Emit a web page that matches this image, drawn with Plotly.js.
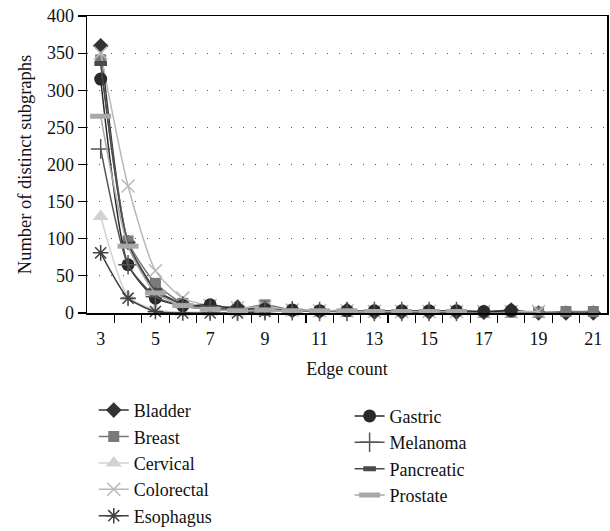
<!DOCTYPE html>
<html>
<head>
<meta charset="utf-8">
<script src="https://cdn.plot.ly/plotly-3.0.1.min.js"></script>
<style>html,body{margin:0;padding:0;background:#fff;}#chart{width:610px;height:531px;}</style>
</head>
<body>
<div id="chart"></div>
<script>
// Edge counts (x categories)
const edgeCounts = [3,4,5,6,7,8,9,10,11,12,13,14,15,16,17,18,19,20,21];
const xTickLabels = ["3","5","7","9","11","13","15","17","19","21"];
const yTickLabels = ["0","50","100","150","200","250","300","350","400"];

// Number of distinct subgraphs per cancer type
const bladder    = [360, 95, 32, 12, 8, 8, 5, 3, 2, 4, 1, 1, 1, 1, 1, 4, 0, 0, 0];
const breast     = [341, 97, 40, 13, 7, 5, 11, 4, 3, 2, 2, 2, 2, 2, 1, 1, 1, 2, 2];
const cervical   = [130, 22, 4, 1, 1, 0, 1];
const colorectal = [350, 171, 57, 20, 10, 7, 8, 4, 3, 3, 2, 2, 2, 2, 2, 2, 2];
const esophagus  = [81, 20, 2, 0, 0, 0, 2];
const gastric    = [315, 65, 20, 10, 11, 5, 5, 4, 3, 3, 3, 3, 3, 3, 2, 3];
const melanoma   = [221, 65, 22, 9, 5, 3, 3, 3, 2, 2, 2, 2, 2, 2];
const pancreatic = [336, 93, 30, 12, 7, 5, 5, 3, 3, 2, 2, 2, 2, 2];
const prostate   = [265, 90, 27, 10, 5, 3, 4, 3, 3, 3, 2, 2, 2, 2];

const names = ["Bladder","Breast","Cervical","Colorectal","Esophagus","Gastric","Melanoma","Pancreatic","Prostate"];
const series = [bladder, breast, cervical, colorectal, esophagus, gastric, melanoma, pancreatic, prostate];
const colors = ["#333333","#7a7a7a","#d2d2d2","#b8b8b8","#404040","#2a2a2a","#555555","#4a4a4a","#a8a8a8"];
const symbols = ["diamond","square","triangle-up","x-thin-open","asterisk-open","circle","cross-thin-open","line-ew-open","line-ew-open"];
const sizes = [12, 11, 14, 13, 13, 13, 14, 9, 15];
const mlw = [0, 0, 0, 1.5, 1.5, 0, 1.5, 5, 5];

const traces = series.map((vals, i) => ({
  type: 'scatter',
  mode: 'lines+markers',
  name: names[i],
  x: edgeCounts.slice(0, vals.length),
  y: vals,
  legend: i < 5 ? 'legend' : 'legend2',
  line: {color: colors[i], width: 1.5, shape: 'spline', smoothing: 0.6},
  marker: {symbol: symbols[i], size: sizes[i], color: colors[i], line: {color: colors[i], width: mlw[i]}},
  cliponaxis: false
}));

const serif = 'Liberation Serif, DejaVu Serif, serif';
const tickFont = {family: serif, size: 18, color: '#111'};
const xTickVals = xTickLabels.map(Number);
const yTickVals = yTickLabels.map(Number);
const boundaries = edgeCounts.slice(0, -1).map(v => v + 0.5);

const layout = {
  width: 610, height: 531,
  margin: {l: 87, r: 3, t: 16, b: 218, autoexpand: false},
  paper_bgcolor: '#fff', plot_bgcolor: '#fff',
  showlegend: true,
  xaxis: {
    range: [2.5, 21.5], automargin: false,
    tickmode: 'array', tickvals: xTickVals, ticktext: xTickLabels,
    ticks: '', ticklabelstandoff: 9, showgrid: false, zeroline: false,
    showline: true, linecolor: '#000', linewidth: 1.5, mirror: true,
    tickfont: tickFont,
    minor: {tickmode: 'array', tickvals: boundaries, ticks: 'outside', ticklen: 8, tickwidth: 1.2, tickcolor: '#000', showgrid: false},
    title: {text: 'Edge count', font: {family: serif, size: 18, color: '#111'}, standoff: 14}
  },
  yaxis: {
    range: [0, 400], automargin: false,
    tickmode: 'array', tickvals: yTickVals, ticktext: yTickLabels,
    ticks: 'outside', ticklen: 8, tickwidth: 1.2, tickcolor: '#000',
    showgrid: true, gridcolor: '#555', gridwidth: 1, griddash: '1px,11px',
    zeroline: false,
    showline: true, linecolor: '#000', linewidth: 1.5, mirror: true,
    tickfont: tickFont,
    title: {text: 'Number of distinct subgraphs', font: {family: serif, size: 18.5, color: '#111'}, standoff: 10}
  },
  legend: {
    x: 0.013, xanchor: 'left', yref: 'container', y: 0.262, yanchor: 'top',
    font: {family: serif, size: 18, color: '#111'},
    tracegroupgap: 0, itemsizing: 'trace', bgcolor: 'rgba(0,0,0,0)'
  },
  legend2: {
    x: 0.505, xanchor: 'left', yref: 'container', y: 0.251, yanchor: 'top',
    font: {family: serif, size: 18, color: '#111'},
    tracegroupgap: 0, itemsizing: 'trace', bgcolor: 'rgba(0,0,0,0)'
  }
};

Plotly.newPlot('chart', traces, layout, {displayModeBar: false, staticPlot: true});
</script>
</body>
</html>
